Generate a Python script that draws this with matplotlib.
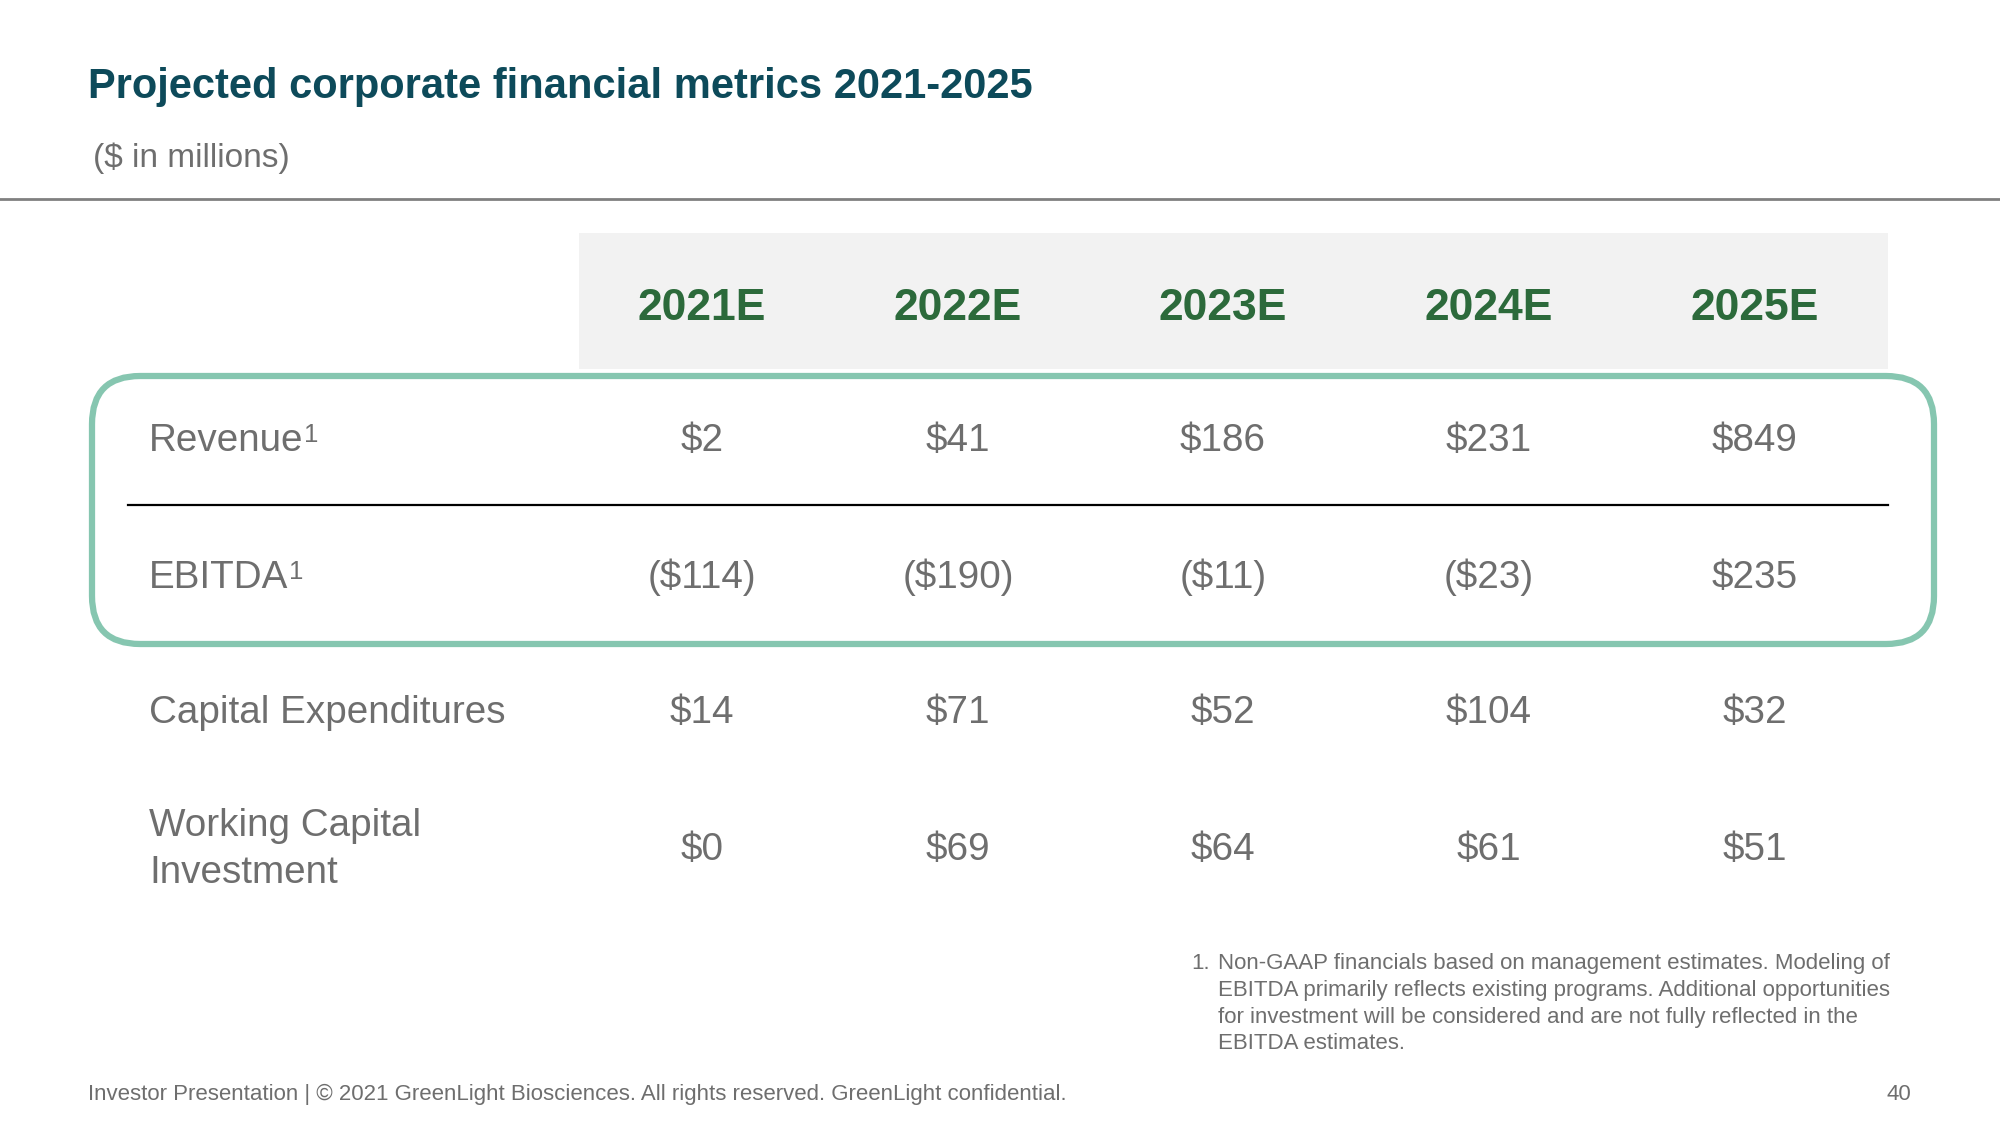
import matplotlib
matplotlib.use("Agg")
import matplotlib.pyplot as plt
from matplotlib.patches import FancyBboxPatch, Rectangle

plt.rcParams['font.family'] = ['Liberation Sans', 'DejaVu Sans']

# data
years = ["2021E", "2022E", "2023E", "2024E", "2025E"]
row_labels = ["Revenue", "EBITDA", "Capital Expenditures", "Working Capital\nInvestment"]
row_footnote = [True, True, False, False]
revenue = [2, 41, 186, 231, 849]
ebitda = [-114, -190, -11, -23, 235]
capex = [14, 71, 52, 104, 32]
working_capital = [0, 69, 64, 61, 51]
rows = [revenue, ebitda, capex, working_capital]

title = "Projected corporate financial metrics 2021-2025"
subtitle = "($ in millions)"
footnote = ["Non-GAAP financials based on management estimates. Modeling of",
            "EBITDA primarily reflects existing programs. Additional opportunities",
            "for investment will be considered and are not fully reflected in the",
            "EBITDA estimates."]
footer = "Investor Presentation | \u00a9 2021 GreenLight Biosciences. All rights reserved. GreenLight confidential."
page_no = "40"

# layout (pixel coords, y down)
col_x = [702, 958, 1223, 1489, 1755]
row_y = [437, 574, 709, 846]
label_x = 149

TEAL = "#0d4a5a"
GREEN = "#2c6a3b"
GRAY = "#6e6e6e"
MINT = "#86c6b0"
CAP = 0.716 * 100 / 72  # cap height in px per point


def money(v):
    return "(${})".format(-v) if v < 0 else "${}".format(v)


def put(x, y, s, size, **kw):
    # place text so that its cap height is centred on y
    return ax.text(x, y + CAP * size / 2, s, fontsize=size, va="baseline", **kw)


fig = plt.figure(figsize=(20, 11.25), dpi=100)
ax = fig.add_axes([0, 0, 1, 1])
ax.set_xlim(0, 2000)
ax.set_ylim(1125, 0)
ax.axis("off")

ax.text(88, 87, title, fontsize=30, fontweight="bold", color=TEAL, va="center", ha="left")
ax.text(93, 158, subtitle, fontsize=24, color=GRAY, va="center", ha="left")
ax.plot([0, 2000], [199, 199], color="#808080", lw=2)

# header band
ax.add_patch(Rectangle((579, 233), 1309, 136, facecolor="#f2f2f2", edgecolor="none"))
for x, yr in zip(col_x, years):
    put(x, 304, yr, 32, fontweight="bold", color=GREEN, ha="center")

# highlight box around revenue / ebitda
ax.add_patch(FancyBboxPatch((92, 376), 1842, 268, boxstyle="round,pad=0,rounding_size=48",
                            facecolor="none", edgecolor=MINT, lw=4.5))
ax.plot([128, 1888], [505, 505], color="black", lw=1.6)

fig.canvas.draw()
renderer = fig.canvas.get_renderer()
inv = ax.transData.inverted()

LS = 27.8
for lab, fn, y, vals in zip(row_labels, row_footnote, row_y, rows):
    lines = lab.split("\n")
    offs = [0] if len(lines) == 1 else [-23.5, 23.5]
    for line, o in zip(lines, offs):
        t = put(label_x, y + o, line, LS, color=GRAY, ha="left")
    if fn:
        bb = t.get_window_extent(renderer)
        x1 = inv.transform((bb.x1, bb.y1))[0]
        sup = 18.5
        ax.text(x1 + 1, y - CAP * LS / 2 + CAP * sup, "1", fontsize=sup, color=GRAY,
                ha="left", va="baseline")
    for x, v in zip(col_x, vals):
        put(x, y, money(v), LS, color=GRAY, ha="center")

FS = 16
ax.text(1191, 963.5, "1.", fontsize=FS, color=GRAY, ha="left", va="center")
for i, line in enumerate(footnote):
    ax.text(1218, 963.5 + 26.8 * i, line, fontsize=FS, color=GRAY, ha="left", va="center")

ax.text(88, 1094, footer, fontsize=16, color=GRAY, ha="left", va="center")
ax.text(1911, 1094, page_no, fontsize=16, color=GRAY, ha="right", va="center")

fig.savefig("out.png", dpi=100, facecolor="white")
